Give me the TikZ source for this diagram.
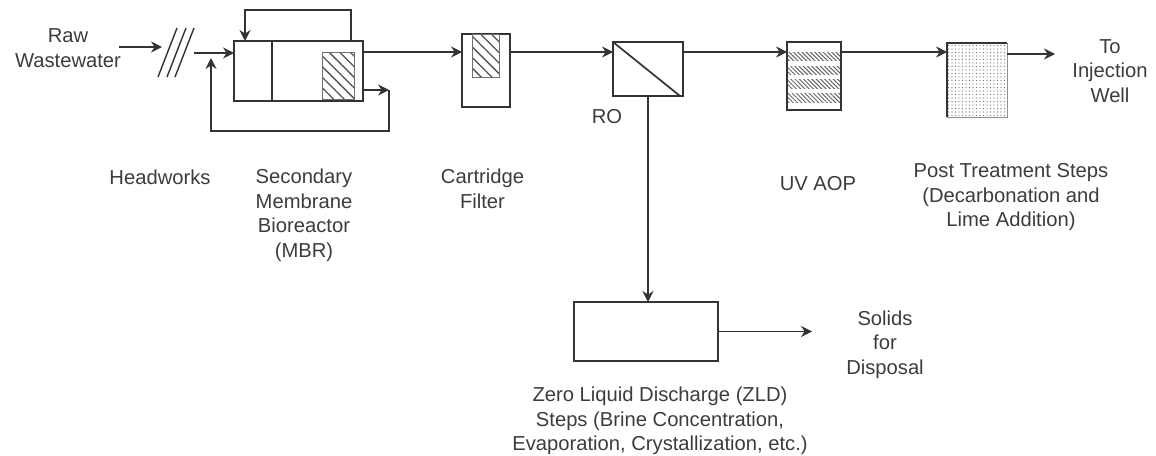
\documentclass[tikz,border=0pt]{standalone}
\usepackage{fontspec}
\setmainfont{Liberation Sans}
\usetikzlibrary{arrows.meta,patterns.meta,calc}
\definecolor{ink}{HTML}{333333}
\definecolor{txt}{HTML}{3C3C3C}
\tikzset{
  unit/.style={draw=ink,line width=1.8pt,inner sep=0pt,outer sep=0pt,fill=white},
  hatchbox/.style={draw=ink!70,line width=0.8pt,inner sep=0pt,outer sep=0pt,
    pattern={Lines[angle=-45,distance=7.5pt,line width=1.3pt]},pattern color=ink!85},
  bandbox/.style={draw=none,inner sep=0pt,outer sep=0pt,minimum width=52pt,
    pattern={Lines[angle=-45,distance=3pt,line width=1pt]},pattern color=ink!75},
  flow/.style={draw=ink,line width=1.7pt,-{Stealth[length=11pt,width=11pt]}},
  plain/.style={draw=ink,line width=1.7pt},
  label/.style={text=txt,font=\fontsize{20.2}{24.5}\selectfont,align=center,inner sep=0pt}
}
\begin{document}
\begin{tikzpicture}[x=1pt,y=-1pt]
\useasboundingbox (0,0) rectangle (1156,455);
% units
\node[unit,minimum width=129pt,minimum height=60pt] (mbr) at (298.5,71) {};
\node[hatchbox,minimum width=32pt,minimum height=47pt] (mbrh) at (338.5,75.5) {};
\draw[plain] (mbr.north west) ++(38,0) coordinate (dv) -- (dv |- mbr.south);
\node[unit,minimum width=48pt,minimum height=73pt] (cart) at (486,70.5) {};
\node[hatchbox,minimum width=27pt,minimum height=43pt] (carth) at (485.5,55.5) {};
\node[unit,minimum width=70pt,minimum height=54pt] (ro) at (648,69) {};
\draw[plain] (ro.north west) -- ([xshift=-3pt]ro.south east);
\node[unit,minimum width=54pt,minimum height=68pt] (uv) at (814,76) {};
\node[bandbox,minimum height=8pt] (b1) at (814,56) {};
\node[bandbox,minimum height=8pt] (b2) at (814,70) {};
\node[bandbox,minimum height=9pt] (b3) at (814,84) {};
\node[bandbox,minimum height=9pt] (b4) at (814,97.5) {};
\draw[ink,line width=1.8pt] (uv.north west) rectangle (uv.south east);
\node[draw=ink!55,line width=1pt,inner sep=0pt,outer sep=0pt,minimum width=60pt,minimum height=74pt,
  pattern={Dots[distance=3.5pt,radius=0.7pt]},pattern color=ink!70] (post) at (977,80) {};
\draw[ink,line width=2.4pt] (post.south west) -- (post.north west) -- (post.north east);
\node[unit,minimum width=144pt,minimum height=59pt] (zld) at (646,331.5) {};
% headworks screen
\coordinate (s1a) at (158,77); \coordinate (s1b) at (177,28);
\coordinate (s2a) at (167,77); \coordinate (s2b) at (186,28);
\coordinate (s3a) at (175,77); \coordinate (s3b) at (194,28);
\draw[plain,line width=1.4pt] (s1a) -- (s1b) (s2a) -- (s2b) (s3a) -- (s3b);
% free ends
\coordinate (rawS) at (119,47); \coordinate (rawE) at (162,47);
\coordinate (inS) at (194,53);
\coordinate (recE) at (211,58);
\coordinate (topL) at (245,10); \coordinate (topR) at (351,10);
\coordinate (sideC) at (389,90); \coordinate (botR) at (389,131); \coordinate (botL) at (211,131);
\coordinate (solE) at (812,332); \coordinate (wellE) at (1055,54);
% connectors
\draw[flow] (rawS) -- (rawE);
\draw[flow] (inS) -- (inS -| mbr.west);
\draw[flow] (topR |- mbr.north) -- (topR) -- (topL) -- (topL |- mbr.north);
\draw[flow] (mbr.east |- sideC) -- (sideC);
\draw[flow] (sideC) -- (botR) -- (botL) -- (recE);
\draw[flow] ([yshift=-11pt]mbr.north east) coordinate (p1) -- (p1 -| cart.west);
\draw[flow] ([yshift=18.5pt]cart.east) coordinate (p2) -- (p2 -| ro.west);
\draw[flow] ([yshift=17pt]ro.east) coordinate (p3) -- (p3 -| uv.west);
\draw[flow] ([yshift=24pt]uv.east) coordinate (p4) -- (p4 -| post.west);
\draw[flow] ([yshift=26pt]post.east) coordinate (p5) -- (p5 -| wellE);
\draw[flow] (ro.south) -- (ro.south |- zld.north);
\draw[flow] (zld.east) -- (zld.east -| solE);
% labels
\node[label] (t1) at (68,36) {Raw};
\node[label] (t2) at (68,61) {Wastewater};
\node[label] (t3) at (160,177) {Headworks};
\node[label,anchor=north] (t4) at (304,169) {Secondary\\Membrane\\Bioreactor\\(MBR)};
\node[label,anchor=north] (t5) at (482.5,169) {Cartridge\\Filter};
\node[label] (t6) at (607,117) {RO};
\node[label] (t7) at (818,184) {UV AOP};
\node[label,anchor=north] (t8) at (1011,163.5) {Post Treatment Steps\\(Decarbonation and\\Lime Addition)};
\node[label,anchor=north] (t9) at (1110,39) {To\\Injection\\Well};
\node[label,anchor=north] (t10) at (885,310.5) {Solids\\for\\Disposal};
\node[label,anchor=north] (t11) at (660,387) {Zero Liquid Discharge (ZLD)\\Steps (Brine Concentration,\\Evaporation, Crystallization, etc.)};
\end{tikzpicture}
\end{document}
